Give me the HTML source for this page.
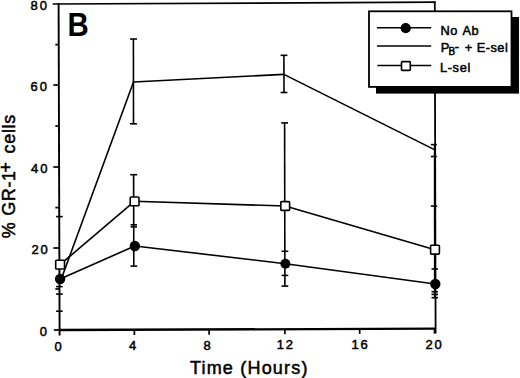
<!DOCTYPE html>
<html>
<head>
<meta charset="utf-8">
<style>
html,body{margin:0;padding:0;background:#fff;width:520px;height:378px;overflow:hidden;}
svg{display:block;}
text{font-family:"Liberation Sans",sans-serif;font-weight:bold;fill:#000;}
.t text{font-weight:normal;stroke:#000;stroke-width:0.5px;}
</style>
</head>
<body>
<svg width="520" height="378" viewBox="0 0 520 378">
<rect x="0" y="0" width="520" height="378" fill="#fff"/>
<g stroke="#000" fill="none" stroke-linecap="butt">
<line x1="58.6" y1="3" x2="59.6" y2="335.5" stroke-width="1.9"/>
<line x1="52.7" y1="4" x2="435.6" y2="2.2" stroke-width="1.7"/>
<line x1="434.8" y1="1.5" x2="435.6" y2="333.5" stroke-width="1.8"/>
<line x1="59" y1="330" x2="435.8" y2="328.6" stroke-width="2.3"/>
<line x1="53.3" y1="85" x2="59" y2="85" stroke-width="1.7"/>
<line x1="53.3" y1="167" x2="59" y2="167" stroke-width="1.7"/>
<line x1="53.3" y1="248" x2="59" y2="248" stroke-width="1.7"/>
<line x1="53.8" y1="330" x2="59" y2="330" stroke-width="1.7"/>
<line x1="55.3" y1="44.6" x2="59" y2="44.6" stroke-width="1.7"/>
<line x1="55.3" y1="126" x2="59" y2="126" stroke-width="1.7"/>
<line x1="55.3" y1="207.6" x2="59" y2="207.6" stroke-width="1.7"/>
<line x1="55.3" y1="289" x2="59" y2="289" stroke-width="1.7"/>
<line x1="134.4" y1="330" x2="134.4" y2="335" stroke-width="1.7"/>
<line x1="209.1" y1="329.5" x2="209.1" y2="334.7" stroke-width="1.7"/>
<line x1="284.9" y1="329" x2="284.9" y2="334.3" stroke-width="1.7"/>
<line x1="359.7" y1="329" x2="359.7" y2="333.8" stroke-width="1.7"/>
<line x1="434.5" y1="328.5" x2="434.5" y2="333.5" stroke-width="1.7"/>
<line x1="56.1" y1="216.6" x2="62.7" y2="216.6" stroke-width="1.6"/>
<line x1="56.1" y1="286.6" x2="62.7" y2="286.6" stroke-width="1.6"/>
<line x1="56.1" y1="294.1" x2="62.7" y2="294.1" stroke-width="1.6"/>
<line x1="56.1" y1="311.2" x2="62.7" y2="311.2" stroke-width="1.6"/>
<line x1="133.4" y1="39" x2="133.5" y2="123.8" stroke-width="1.6"/>
<line x1="130.1" y1="39" x2="137" y2="39" stroke-width="1.6"/>
<line x1="130" y1="123.8" x2="136.9" y2="123.8" stroke-width="1.6"/>
<line x1="133.6" y1="174.7" x2="133.8" y2="266.1" stroke-width="1.6"/>
<line x1="130.3" y1="174.7" x2="137.2" y2="174.7" stroke-width="1.6"/>
<line x1="130.6" y1="224.8" x2="137" y2="224.8" stroke-width="1.6"/>
<line x1="130.6" y1="226.9" x2="137" y2="226.9" stroke-width="1.6"/>
<line x1="130.5" y1="266.1" x2="137.2" y2="266.1" stroke-width="1.6"/>
<line x1="283.9" y1="55.3" x2="284" y2="92.5" stroke-width="1.6"/>
<line x1="280.6" y1="55.3" x2="287.4" y2="55.3" stroke-width="1.6"/>
<line x1="280.6" y1="92.5" x2="287.4" y2="92.5" stroke-width="1.6"/>
<line x1="284.6" y1="122.9" x2="284.9" y2="286.1" stroke-width="1.6"/>
<line x1="281.2" y1="122.9" x2="288" y2="122.9" stroke-width="1.6"/>
<line x1="281.5" y1="251.3" x2="288.3" y2="251.3" stroke-width="1.6"/>
<line x1="281.5" y1="275.4" x2="288.3" y2="275.4" stroke-width="1.6"/>
<line x1="281.5" y1="286.1" x2="288.3" y2="286.1" stroke-width="1.6"/>
<line x1="434.6" y1="144" x2="434.7" y2="298" stroke-width="1.6"/>
<line x1="430.9" y1="144.6" x2="436.9" y2="144.6" stroke-width="1.6"/>
<line x1="430.9" y1="156.5" x2="436.9" y2="156.5" stroke-width="1.6"/>
<line x1="430.8" y1="206.1" x2="437.1" y2="206.1" stroke-width="1.6"/>
<line x1="431.5" y1="269" x2="438" y2="269" stroke-width="1.6"/>
<line x1="431.5" y1="291.7" x2="438" y2="291.7" stroke-width="1.6"/>
<line x1="431.5" y1="294.4" x2="438" y2="294.4" stroke-width="1.6"/>
<line x1="431.5" y1="297.7" x2="438" y2="297.7" stroke-width="1.6"/>
<g stroke-width="1.6" stroke-linejoin="round">
<polyline points="60,282.5 133.5,82 283.9,74.4 434.9,149.9"/>
<polyline points="60.1,264.6 134.4,201.3 285.2,206 435,249.7"/>
<polyline points="60.1,279 134.8,246 285.4,263.7 435.3,284"/>
</g>
</g>
<g fill="#000">
<circle cx="60.1" cy="279" r="5.2"/>
<circle cx="134.85" cy="246" r="5.2"/>
<circle cx="285.4" cy="263.7" r="5"/>
<circle cx="435.3" cy="284" r="5.2"/>
</g>
<g fill="#fff" stroke="#000" stroke-width="1.6">
<rect x="55.7" y="260.2" width="8.8" height="8.8" rx="0.8"/>
<rect x="130.2" y="197" width="8.8" height="8.8" rx="0.8"/>
<rect x="280.8" y="201.6" width="8.8" height="8.8" rx="0.8"/>
<rect x="430.6" y="245.3" width="8.8" height="8.8" rx="0.8"/>
</g>
<rect x="376" y="17" width="143" height="76.6" fill="#000"/>
<rect x="369" y="11.3" width="142.5" height="75.6" fill="#fff" stroke="#000" stroke-width="1.8"/>
<g stroke="#000" stroke-width="1.6">
<line x1="377" y1="27.8" x2="431.2" y2="27.8" stroke-width="1.6"/>
<line x1="377" y1="46" x2="431.2" y2="46" stroke-width="1.6"/>
<line x1="377.4" y1="65.5" x2="431.2" y2="65.5" stroke-width="1.6"/>
</g>
<circle cx="405.7" cy="28.2" r="5.1" fill="#000"/>
<rect x="401.5" y="61.6" width="8.8" height="8.8" rx="0.8" fill="#fff" stroke="#000" stroke-width="1.6"/>
<g class="t">
<text x="440.45" y="34.5" font-size="12.8" letter-spacing="0.5" word-spacing="1.3">No Ab</text>
<text x="440.8" y="51.7" font-size="12.8" letter-spacing="0.45">P<tspan font-size="10" dx="-1.2" dy="3.4">B</tspan><tspan dx="-0.9" dy="-3.8">-</tspan><tspan dx="1.3" dy="0.4"> + E-sel</tspan></text>
<text x="439.95" y="72" font-size="12.8" letter-spacing="0.65">L-sel</text>
</g>
<text transform="translate(67.4,36.4) scale(0.87,1)" font-size="33.8">B</text>
<g class="t">
<text x="30.5" y="9.8" font-size="13" letter-spacing="1.9">80</text>
<text x="30.6" y="90.5" font-size="13" letter-spacing="1.9">60</text>
<text x="31" y="172.9" font-size="13" letter-spacing="1.9">40</text>
<text x="31.4" y="253.6" font-size="13" letter-spacing="1.9">20</text>
<text x="39.7" y="335.5" font-size="13">0</text>
<text x="54.5" y="350.5" font-size="13">0</text>
<text x="129" y="350.2" font-size="13">4</text>
<text x="203.6" y="349.8" font-size="13">8</text>
<text x="276.7" y="349" font-size="13" letter-spacing="1.9">12</text>
<text x="351.4" y="348.6" font-size="13" letter-spacing="1.9">16</text>
<text x="425.4" y="348.9" font-size="13" letter-spacing="1.9">20</text>
<text x="189.95" y="373.6" font-size="18" letter-spacing="1.2" stroke-width="0.55">Time (Hours)</text>
<text transform="translate(15,238.15) rotate(-90)" font-size="18" letter-spacing="0.65" stroke-width="0.55">% GR-1<tspan dx="-2.2" dy="-3.5">+</tspan><tspan dx="2.2" dy="3.5"> cells</tspan></text>
</g>
</svg>
</body>
</html>
